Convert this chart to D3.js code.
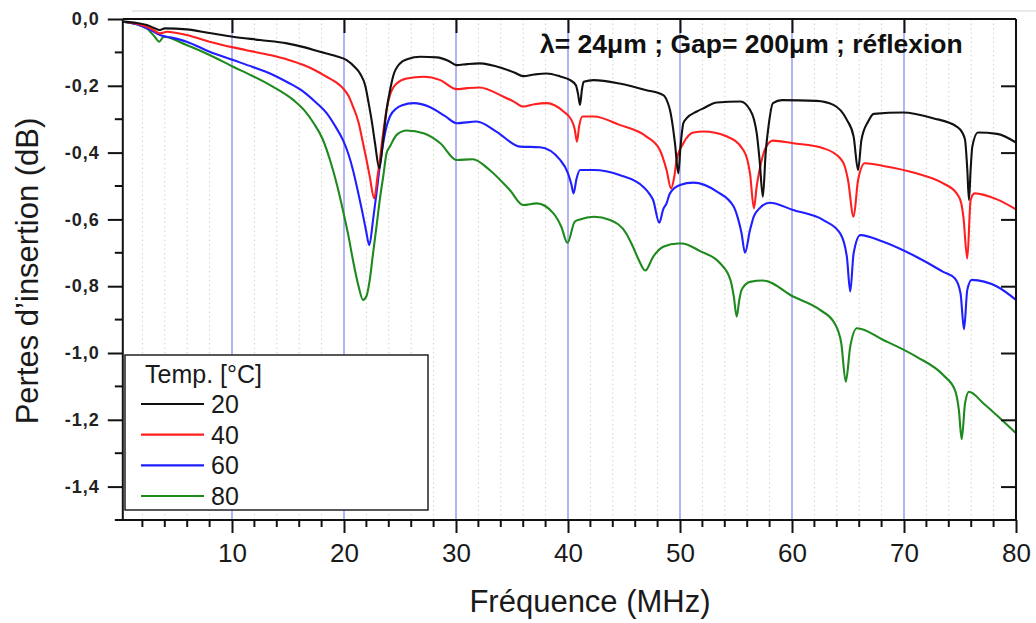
<!DOCTYPE html>
<html><head><meta charset="utf-8">
<script src="https://cdn.jsdelivr.net/npm/d3@7"></script>
<style>
body{margin:0;background:#fff;}
svg{display:block;font-family:"Liberation Sans",Arial,sans-serif;}
</style></head>
<body><svg id="c" width="1036" height="623"></svg>
<script>
// ---- data ----
const temps = ["20","40","60","80"];
const colors = ["#111111","#ff1f1f","#1f1fff","#1e8a1e"];
const xMajorTicks = [10,20,30,40,50,60,70,80];
const yMajorTicks = [0,-0.2,-0.4,-0.6,-0.8,-1.0,-1.2,-1.4];
const yTickLabels = ["0,0","-0,2","-0,4","-0,6","-0,8","-1,0","-1,2","-1,4"];
const titleText = "λ= 24μm ; Gap= 200μm ; réflexion";
const xTitle = "Fréquence (MHz)";
const yTitle = "Pertes d’insertion (dB)";

const s20 = [[0.3,-0.008],[1.5,-0.012],[2.4,-0.018],[3.0,-0.026],[3.57,-0.033],[4.0,-0.028],[5.95,-0.031],[8.0,-0.042],[10.06,-0.053],[12.5,-0.063],[14.9,-0.073],[16.5,-0.085],[17.86,-0.098],[19.2,-0.11],[20.24,-0.123],[21.0,-0.145],[21.43,-0.163],[21.9,-0.2],[22.2,-0.252],[22.5,-0.31],[22.77,-0.372],[23.15,-0.447],[23.5,-0.36],[23.8,-0.272],[24.1,-0.215],[24.4,-0.17],[25.0,-0.133],[25.7,-0.12],[26.8,-0.113],[28.3,-0.115],[29.3,-0.125],[30.06,-0.138],[31.0,-0.135],[32.1,-0.133],[34.2,-0.148],[35.2,-0.16],[36.0,-0.171],[37.0,-0.166],[38.1,-0.163],[39.3,-0.172],[40.2,-0.183],[40.7,-0.198],[40.9,-0.225],[41.07,-0.257],[41.25,-0.21],[41.4,-0.188],[42.3,-0.183],[44.6,-0.193],[47.0,-0.213],[48.5,-0.228],[48.9,-0.25],[49.1,-0.272],[49.35,-0.32],[49.55,-0.372],[49.85,-0.462],[50.05,-0.38],[50.3,-0.312],[50.6,-0.297],[51.5,-0.277],[52.1,-0.267],[53.3,-0.25],[55.4,-0.247],[56.25,-0.272],[56.6,-0.3],[56.85,-0.342],[57.1,-0.42],[57.4,-0.532],[57.65,-0.4],[57.9,-0.322],[58.3,-0.252],[59.1,-0.243],[62.2,-0.245],[63.7,-0.257],[64.9,-0.302],[65.5,-0.352],[65.9,-0.452],[66.2,-0.362],[66.8,-0.307],[67.3,-0.284],[69.9,-0.28],[72.6,-0.297],[74.7,-0.322],[75.2,-0.34],[75.45,-0.362],[75.65,-0.45],[75.8,-0.542],[75.95,-0.45],[76.1,-0.382],[76.6,-0.34],[78.3,-0.344],[80,-0.37]];

const s40 = [[0.3,-0.008],[1.5,-0.014],[2.4,-0.023],[3.1,-0.035],[3.57,-0.043],[4.2,-0.038],[5.95,-0.048],[8.0,-0.068],[10.1,-0.085],[11.8,-0.097],[13.4,-0.108],[15.0,-0.122],[16.4,-0.138],[17.5,-0.155],[18.45,-0.173],[19.3,-0.19],[19.9,-0.207],[20.4,-0.23],[20.8,-0.262],[21.3,-0.31],[21.7,-0.372],[22.0,-0.42],[22.3,-0.472],[22.7,-0.537],[23.0,-0.47],[23.2,-0.422],[23.5,-0.34],[23.8,-0.272],[24.1,-0.228],[24.4,-0.205],[24.7,-0.193],[25.6,-0.178],[27.1,-0.173],[28.6,-0.183],[30.06,-0.21],[31.0,-0.207],[32.1,-0.205],[34.2,-0.232],[35.2,-0.248],[36.0,-0.262],[37.0,-0.255],[38.1,-0.252],[39.6,-0.277],[40.3,-0.302],[40.6,-0.33],[40.8,-0.367],[41.0,-0.32],[41.3,-0.292],[42.3,-0.292],[44.6,-0.317],[47.0,-0.352],[48.2,-0.392],[48.8,-0.452],[49.2,-0.507],[49.5,-0.47],[49.7,-0.422],[50.3,-0.372],[51.2,-0.34],[52.1,-0.337],[54.2,-0.352],[55.65,-0.392],[56.0,-0.42],[56.25,-0.462],[56.6,-0.567],[56.85,-0.5],[57.1,-0.452],[57.7,-0.382],[58.3,-0.364],[60.1,-0.372],[62.8,-0.387],[64.3,-0.417],[64.7,-0.44],[65.0,-0.482],[65.5,-0.592],[65.9,-0.482],[66.5,-0.432],[68.15,-0.44],[71.1,-0.462],[73.5,-0.492],[74.7,-0.522],[75.1,-0.55],[75.3,-0.592],[75.65,-0.717],[75.95,-0.542],[76.3,-0.522],[78.3,-0.54],[80,-0.57]];

const s60 = [[0.3,-0.008],[1.5,-0.016],[2.4,-0.028],[3.1,-0.04],[3.57,-0.048],[4.5,-0.055],[5.95,-0.068],[8.0,-0.098],[10.1,-0.123],[11.8,-0.143],[13.4,-0.163],[15.0,-0.19],[16.4,-0.218],[17.5,-0.25],[18.45,-0.282],[19.2,-0.32],[19.9,-0.362],[20.4,-0.405],[20.8,-0.452],[21.2,-0.51],[21.6,-0.572],[21.95,-0.63],[22.26,-0.677],[22.6,-0.6],[22.9,-0.522],[23.2,-0.44],[23.5,-0.372],[23.8,-0.322],[24.1,-0.292],[24.7,-0.267],[25.2,-0.258],[26.2,-0.252],[27.7,-0.264],[29.0,-0.29],[30.06,-0.312],[31.85,-0.307],[33.6,-0.337],[35.7,-0.382],[37.5,-0.384],[39.3,-0.422],[40.0,-0.462],[40.3,-0.495],[40.5,-0.522],[40.75,-0.48],[41.07,-0.452],[42.3,-0.452],[44.6,-0.467],[46.7,-0.502],[47.3,-0.525],[47.6,-0.542],[48.15,-0.61],[48.5,-0.57],[48.8,-0.552],[49.1,-0.522],[50.0,-0.497],[51.2,-0.49],[53.3,-0.517],[54.8,-0.562],[55.2,-0.6],[55.5,-0.642],[55.8,-0.7],[56.25,-0.632],[56.6,-0.59],[57.1,-0.567],[58.0,-0.55],[60.1,-0.572],[62.8,-0.602],[64.3,-0.642],[64.9,-0.712],[65.2,-0.816],[65.5,-0.702],[66.1,-0.647],[68.15,-0.667],[71.1,-0.712],[73.5,-0.757],[74.55,-0.777],[75.05,-0.822],[75.36,-0.929],[75.65,-0.811],[76.05,-0.781],[78.3,-0.801],[80,-0.841]];

const s80 = [[0.3,-0.008],[1.5,-0.016],[2.4,-0.028],[3.1,-0.053],[3.5,-0.068],[3.9,-0.053],[5.95,-0.078],[8.0,-0.108],[10.1,-0.143],[11.8,-0.17],[13.4,-0.198],[15.5,-0.243],[16.5,-0.275],[17.3,-0.312],[18.1,-0.36],[18.75,-0.422],[19.4,-0.5],[19.9,-0.572],[20.4,-0.65],[20.8,-0.722],[21.3,-0.8],[21.7,-0.841],[22.0,-0.83],[22.3,-0.781],[22.6,-0.7],[22.9,-0.622],[23.2,-0.54],[23.5,-0.472],[23.8,-0.402],[24.1,-0.382],[24.7,-0.347],[25.6,-0.334],[27.1,-0.342],[28.6,-0.372],[30.06,-0.422],[31.5,-0.42],[33.0,-0.452],[34.8,-0.512],[36.0,-0.557],[37.2,-0.552],[38.7,-0.582],[39.4,-0.622],[39.95,-0.67],[40.6,-0.607],[41.07,-0.6],[42.3,-0.592],[43.75,-0.602],[45.2,-0.642],[45.8,-0.682],[46.3,-0.72],[46.9,-0.753],[47.6,-0.712],[48.5,-0.682],[49.85,-0.672],[50.15,-0.672],[51.8,-0.695],[53.6,-0.732],[54.5,-0.781],[54.8,-0.83],[55.06,-0.891],[55.3,-0.84],[55.5,-0.811],[56.25,-0.787],[57.4,-0.783],[60.1,-0.831],[62.5,-0.871],[63.8,-0.911],[64.4,-0.971],[64.8,-1.086],[65.2,-0.981],[65.8,-0.926],[68.15,-0.961],[71.1,-1.011],[73.5,-1.066],[74.55,-1.111],[74.9,-1.171],[75.15,-1.258],[75.45,-1.151],[75.8,-1.116],[77.1,-1.151],[78.6,-1.196],[80,-1.24]];

const seriesList = [s20, s40, s60, s80];

// ---- chart ----
const svg = d3.select("#c");
const X0 = 122.8, X1 = 1016, Y0 = 19, Y1 = 520;
const x = d3.scaleLinear().domain([0.25, 80]).range([X0, X1]);
const y = d3.scaleLinear().domain([-1.5, 0]).range([Y1, Y0]);

const minorX = d3.range(2, 80, 2).filter(v => v % 10 !== 0);
const minorY = d3.range(-1.5, 0.001, 0.1).map(v => +v.toFixed(2)).filter(v => Math.abs(Math.round(v*10)) % 2 === 1);

// faint scan line above the frame
svg.append("line").attr("x1", 132).attr("x2", 1036).attr("y1", 11).attr("y2", 11)
  .attr("stroke", "#d4d4d4").attr("stroke-width", 1.2);

// dotted minor verticals
svg.append("g").selectAll("line").data(minorX).join("line")
  .attr("x1", d => x(d)).attr("x2", d => x(d)).attr("y1", Y0).attr("y2", Y1)
  .attr("stroke", "#d6d3c4").attr("stroke-width", 1).attr("stroke-dasharray", "1.5,3");

// blue major verticals
svg.append("g").selectAll("line").data(xMajorTicks.filter(d => d < 80)).join("line")
  .attr("x1", d => x(d)).attr("x2", d => x(d)).attr("y1", Y0).attr("y2", Y1)
  .attr("stroke", "#8a8cf2").attr("stroke-width", 1.3);

// curves
svg.append("clipPath").attr("id", "clip").append("rect")
  .attr("x", X0).attr("y", Y0).attr("width", X1 - X0).attr("height", Y1 - Y0);
const line = d3.line().x(d => x(d[0])).y(d => y(d[1])).curve(d3.curveMonotoneX);
const gLines = svg.append("g").attr("clip-path", "url(#clip)");
[3,2,1,0].forEach(i => {
  gLines.append("path").datum(seriesList[i]).attr("d", line)
    .attr("fill", "none").attr("stroke", colors[i]).attr("stroke-width", 2.1)
    .attr("stroke-linejoin", "round");
});

// frame
const frame = svg.append("g").attr("stroke", "#111").attr("fill", "none");
frame.append("line").attr("x1", X0).attr("x2", X0).attr("y1", Y0).attr("y2", Y1 + 1).attr("stroke-width", 2);
frame.append("line").attr("x1", X1).attr("x2", X1).attr("y1", Y0).attr("y2", Y1 + 1).attr("stroke-width", 2);
frame.append("line").attr("x1", 116).attr("x2", X1).attr("y1", Y1).attr("y2", Y1).attr("stroke-width", 2);
frame.append("line").attr("x1", X0).attr("x2", X1).attr("y1", Y0).attr("y2", Y0).attr("stroke-width", 2);

// bottom axis
const gx = svg.append("g").attr("transform", `translate(0,${Y1})`)
  .call(d3.axisBottom(x).tickValues(xMajorTicks).tickSize(13).tickSizeOuter(0).tickPadding(11).tickFormat(d3.format("d")));
gx.select(".domain").remove();
gx.selectAll(".tick line").attr("stroke", "#111").attr("stroke-width", 2);
gx.selectAll(".tick text").attr("font-size", 26).attr("fill", "#1a1a1a")
  .attr("font-family", "Liberation Sans, Arial, sans-serif").attr("dy", "0.71em");
svg.append("g").selectAll("line").data(minorX).join("line")
  .attr("x1", d => x(d)).attr("x2", d => x(d)).attr("y1", Y1).attr("y2", Y1 + 7)
  .attr("stroke", "#111").attr("stroke-width", 2);

// top axis ticks (inward)
svg.append("g").attr("transform", `translate(0,${Y0})`)
  .call(d3.axisTop(x).tickValues(xMajorTicks.filter(d => d < 80)).tickSize(-14).tickSizeOuter(0).tickFormat(""))
  .call(g => { g.select(".domain").remove(); g.selectAll(".tick line").attr("stroke", "#111").attr("stroke-width", 2); });

// left axis
const gy = svg.append("g").attr("transform", `translate(${X0},0)`)
  .call(d3.axisLeft(y).tickValues(yMajorTicks).tickSize(15).tickSizeOuter(0).tickPadding(8)
    .tickFormat((d, i) => yTickLabels[i]));
gy.select(".domain").remove();
gy.selectAll(".tick line").attr("stroke", "#111").attr("stroke-width", 2);
gy.selectAll(".tick text").attr("font-size", 18).attr("font-weight", "bold").attr("fill", "#222")
  .attr("letter-spacing", "1px").attr("font-family", "Liberation Sans, Arial, sans-serif");
svg.append("g").selectAll("line").data(minorY).join("line")
  .attr("x1", X0 - 8).attr("x2", X0).attr("y1", d => y(d)).attr("y2", d => y(d))
  .attr("stroke", "#111").attr("stroke-width", 2);

// right axis ticks (inward)
svg.append("g").attr("transform", `translate(${X1},0)`)
  .call(d3.axisRight(y).tickValues(yMajorTicks.filter(d => d < 0)).tickSize(-15).tickSizeOuter(0).tickFormat(""))
  .call(g => { g.select(".domain").remove(); g.selectAll(".tick line").attr("stroke", "#111").attr("stroke-width", 2); });

// title inside plot
svg.append("text").attr("x", 540).attr("y", 53).attr("font-size", 26.5).attr("font-weight", "bold")
  .attr("fill", "#111").text(titleText);

// axis titles
svg.append("text").attr("x", 590).attr("y", 612).attr("text-anchor", "middle")
  .attr("font-size", 31).attr("fill", "#1a1a1a").text(xTitle);
svg.append("text").attr("transform", "translate(38,271) rotate(-90)").attr("text-anchor", "middle")
  .attr("font-size", 31).attr("fill", "#1a1a1a").text(yTitle);

// legend
const lg = svg.append("g");
lg.append("rect").attr("x", 125).attr("y", 355).attr("width", 303).attr("height", 155)
  .attr("fill", "#fff").attr("stroke", "#222").attr("stroke-width", 1.5);
lg.append("text").attr("x", 145).attr("y", 383).attr("font-size", 25).attr("fill", "#1a1a1a").text("Temp. [°C]");
const legY = d3.scalePoint().domain(temps).range([404, 496]);
temps.forEach((t, i) => {
  lg.append("line").attr("x1", 141).attr("x2", 204).attr("y1", legY(t)).attr("y2", legY(t))
    .attr("stroke", colors[i]).attr("stroke-width", 2.1);
  lg.append("text").attr("x", 211).attr("y", legY(t) + 9).attr("font-size", 25).attr("fill", "#1a1a1a").text(t);
});
</script></body></html>
